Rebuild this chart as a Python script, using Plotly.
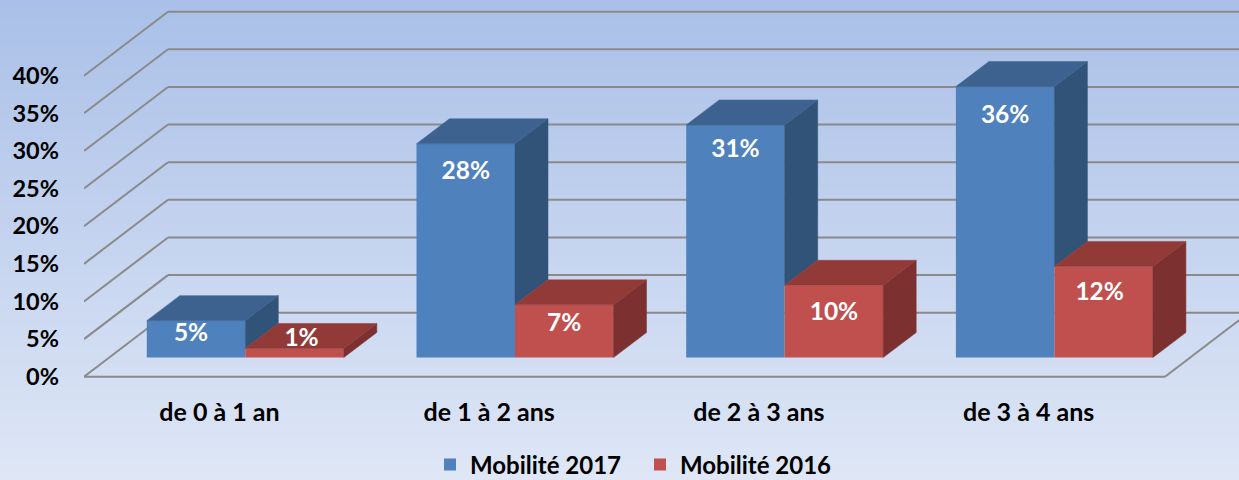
import plotly.graph_objects as go

categories = ["de 0 à 1 an", "de 1 à 2 ans", "de 2 à 3 ans", "de 3 à 4 ans"]
mobilite_2017 = [4.9, 28.4, 30.9, 36.0]
mobilite_2016 = [1.2, 7.0, 9.6, 12.1]
labels_2017 = ["5%", "28%", "31%", "36%"]
labels_2016 = ["1%", "7%", "10%", "12%"]
axis_ticks = [0, 5, 10, 15, 20, 25, 30, 35, 40]
axis_tick_labels = ["0%", "5%", "10%", "15%", "20%", "25%", "30%", "35%", "40%"]

# --- layout geometry (px -> axis units) ---
W, H = 1239, 480
ML, MB = 84, 100
PX_PER_VAL = 7.525
PX_PER_CAT = 269.7
ZERO_Y = 376.7
CAT0_X = 245.3
FONT = "Lato"
X_RANGE = [(ML - CAT0_X) / PX_PER_CAT, (W - CAT0_X) / PX_PER_CAT]
Y_RANGE = [-(H - MB - ZERO_Y) / PX_PER_VAL, ZERO_Y / PX_PER_VAL]
dxu = lambda px: px / PX_PER_CAT
dyu = lambda px: px / PX_PER_VAL

WALL_DX, WALL_DY = dxu(84), dyu(64)
BAR_DX, BAR_DY = dxu(33), dyu(25)
BAR_W = dxu(98.5)
BASE = dyu(ZERO_Y - 357.5)
FLOOR_RIGHT = (1165 - CAT0_X) / PX_PER_CAT
X_RIGHT = X_RANGE[1]

fig = go.Figure()

# --- background gradient ---
shapes = []
N = 120
top, bottom = (170, 192, 232), (223, 231, 246)
plot_h = H - MB
for i in range(N):
    t = i / (N - 1)
    col = tuple(round(a + (b - a) * t) for a, b in zip(top, bottom))
    py0, py1 = H * i / N, min(H, H * (i + 1) / N + 1)
    shapes.append(dict(type="rect", xref="paper", yref="paper", layer="below",
                       x0=-ML / (W - ML), x1=1,
                       y0=1 - py0 / plot_h, y1=1 - py1 / plot_h,
                       line_width=0, fillcolor=f"rgb{col}"))

# --- walls and floor ---
GRID = "#8a8a8a"
def segment(x0, y0, x1, y1):
    shapes.append(dict(type="line", xref="x", yref="y", layer="below",
                       x0=x0, y0=y0, x1=x1, y1=y1, line=dict(color=GRID, width=2)))
for v in axis_ticks:
    segment(X_RANGE[0], v, X_RANGE[0] + WALL_DX, v + WALL_DY)
    segment(X_RANGE[0] + WALL_DX, v + WALL_DY, X_RIGHT, v + WALL_DY)
segment(X_RANGE[0], 0, FLOOR_RIGHT, 0)
segment(FLOOR_RIGHT, 0, X_RIGHT, (X_RIGHT - FLOOR_RIGHT) / WALL_DX * WALL_DY)

# --- front faces ---
xs = list(range(len(categories)))
fig.add_bar(x=xs, y=mobilite_2017, base=BASE, width=BAR_W, offset=-BAR_W, name="Mobilité 2017",
            marker=dict(color="#4F81BD", line_width=0), hoverinfo="skip")
fig.add_bar(x=xs, y=mobilite_2016, base=BASE, width=BAR_W, offset=0, name="Mobilité 2016",
            marker=dict(color="#C0504D", line_width=0), hoverinfo="skip")

# --- depth faces ---
def poly(px, py, color):
    fig.add_scatter(x=px + [px[0]], y=py + [py[0]], mode="lines", fill="toself", fillcolor=color,
                    line=dict(color=color, width=0.5), showlegend=False, hoverinfo="skip")

def depth_faces(x0, low, high, top_col, side_col):
    x1 = x0 + BAR_W
    poly([x1, x1 + BAR_DX, x1 + BAR_DX, x1],
         [BASE + low, BASE + low + BAR_DY, BASE + high + BAR_DY, BASE + high], side_col)
    poly([x0, x1, x1 + BAR_DX, x0 + BAR_DX],
         [BASE + high, BASE + high, BASE + high + BAR_DY, BASE + high + BAR_DY], top_col)

for i, (a, b) in enumerate(zip(mobilite_2017, mobilite_2016)):
    depth_faces(i - BAR_W, b, a, "#3D628F", "#315378")
for i, b in enumerate(mobilite_2016):
    depth_faces(i, 0, b, "#923A38", "#7C302F")

# --- data labels ---
drop_2017 = [14.5, 29, 26, 30]
drop_2016 = [-9, 20, 29, 27]
shift_2017 = [-5, 0, 0, 0]
shift_2016 = [7, 0, 0, -4]
def add_labels(values, texts, drops, shifts, centre):
    fig.add_scatter(
        x=[i + centre + dxu(s) for i, s in enumerate(shifts)],
        y=[BASE + v - dyu(d) for v, d in zip(values, drops)],
        mode="text", text=texts, textposition="middle center",
        textfont=dict(family=FONT, size=24.5, color="white", weight="bold"),
        showlegend=False, hoverinfo="skip")
add_labels(mobilite_2017, labels_2017, drop_2017, shift_2017, -BAR_W / 2)
add_labels(mobilite_2016, labels_2016, drop_2016, shift_2016, BAR_W / 2)

fig.update_layout(
    width=W, height=H, autosize=False,
    margin=dict(l=ML, r=0, t=0, b=MB, pad=0, autoexpand=False),
    paper_bgcolor="#c8d6ee", plot_bgcolor="rgba(0,0,0,0)",
    barmode="overlay", shapes=shapes,
    font=dict(family=FONT, color="black"),
    legend=dict(orientation="h", x=(640 - ML) / (W - ML), xanchor="center",
                y=(H - MB - 465) / (H - MB), yanchor="middle",
                entrywidth=165, entrywidthmode="pixels",
                font=dict(family=FONT, size=24, weight="bold"),
                bgcolor="rgba(0,0,0,0)", itemclick=False, itemdoubleclick=False),
    xaxis=dict(range=X_RANGE, tickmode="array", tickvals=[i - dxu(25.8) for i in xs],
               ticktext=categories, showgrid=False, zeroline=False, showline=False, ticks="",
               ticklabelstandoff=15, tickfont=dict(family=FONT, size=25, weight="bold", color="black"),
               automargin=False, fixedrange=True),
    yaxis=dict(range=Y_RANGE, tickmode="array", tickvals=axis_ticks, ticktext=axis_tick_labels,
               showgrid=False, zeroline=False, showline=False, ticks="",
               ticklabelstandoff=24, tickfont=dict(family=FONT, size=23.5, weight="bold", color="black"),
               automargin=False, fixedrange=True),
)
fig.write_html("out.html", config=dict(displayModeBar=False),
               post_script="document.body.style.margin='0';document.documentElement.style.overflow='hidden';")
